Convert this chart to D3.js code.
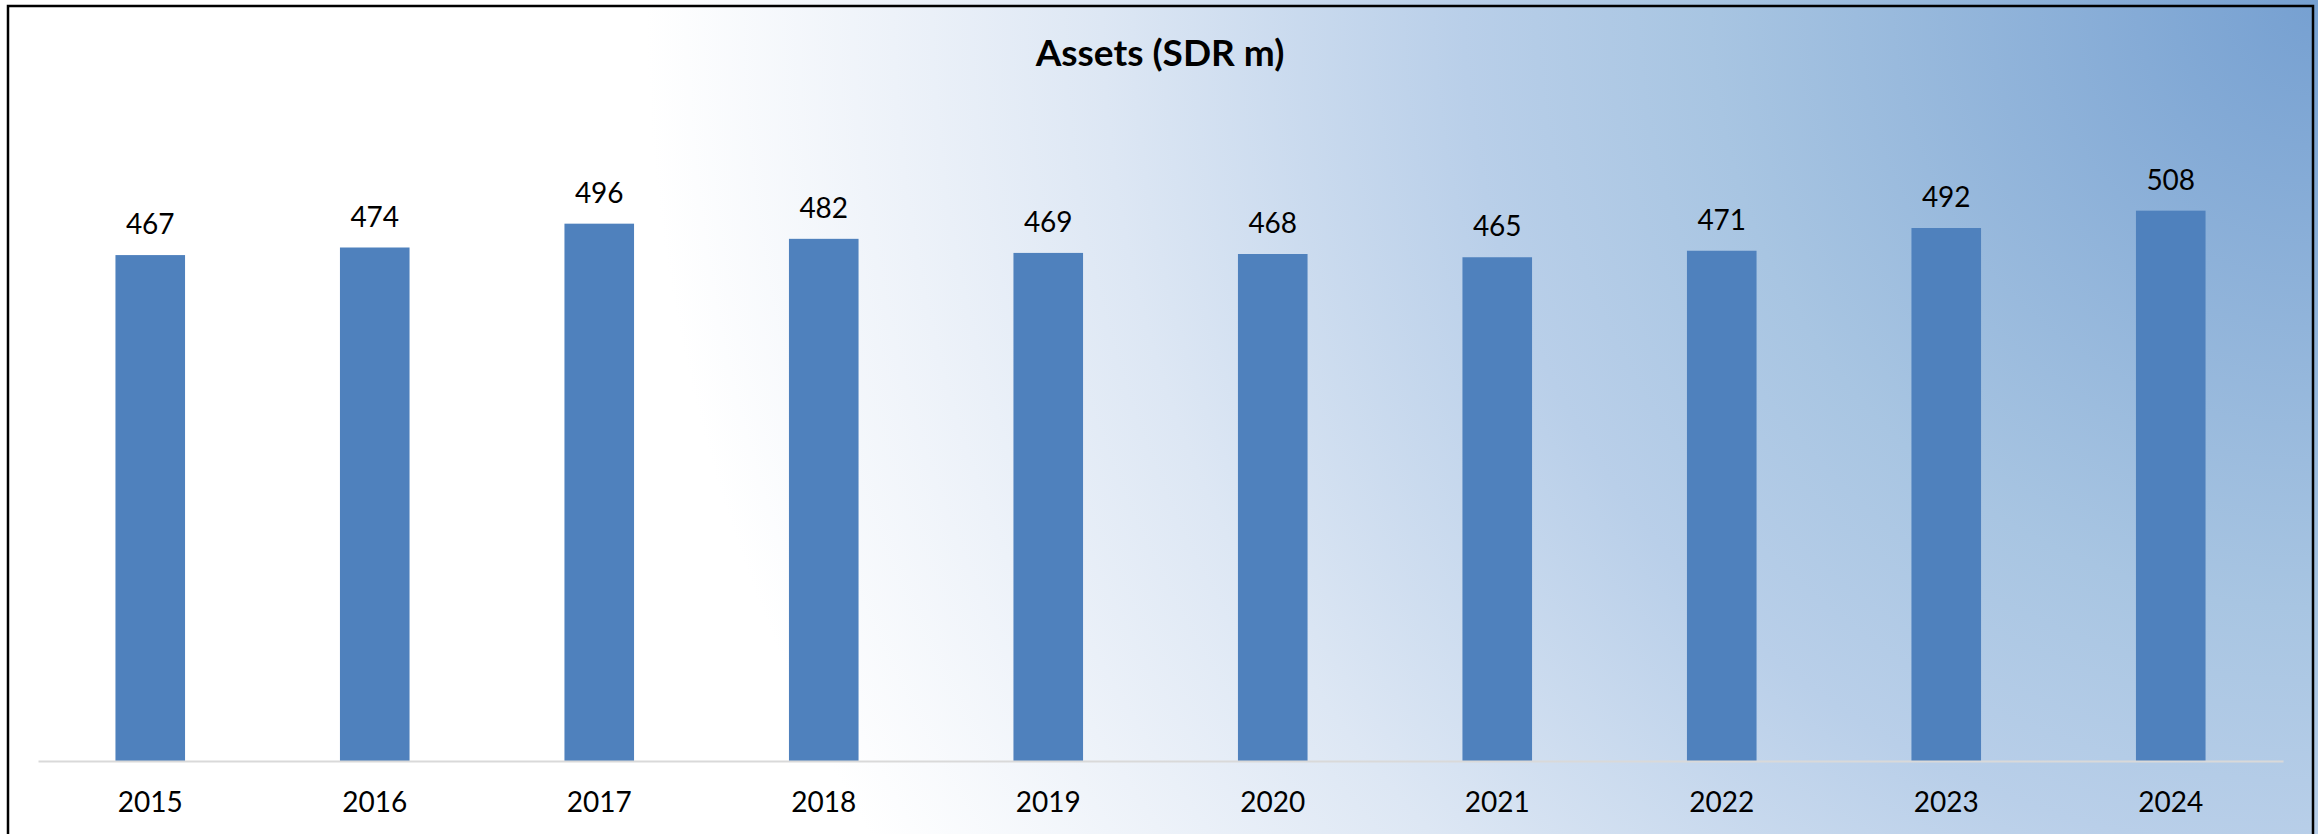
<!DOCTYPE html>
<html lang="en">

<head>
    <meta charset="utf-8">
    <title>Assets (SDR m)</title>
    <script type="text/javascript" src="https://cdn.jsdelivr.net/npm/d3@7"></script>
    <style type="text/css">
    body {
        margin: 0;
        background: #fff;
    }

    svg text {
        font-family: Lato, "Open Sans", sans-serif;
        fill: #000;
    }

    .title {
        font-size: 37px;
        font-weight: bold;
        text-anchor: middle;
    }

    .value {
        font-size: 28px;
        text-anchor: middle;
    }

    .x-axis text {
        font-size: 28px;
    }
    </style>
</head>

<body>
    <script type="text/javascript">
    //chart data
    var years = ['2015', '2016', '2017', '2018', '2019', '2020', '2021', '2022', '2023', '2024'];
    var assets = [467, 474, 496, 482, 469, 468, 465, 471, 492, 508];
    var title = 'Assets (SDR m)';

    //Width and height
    var w = 2318;
    var h = 834;

    //plot area (window.top is reserved, so use other names)
    var plotLeft = 38,
        plotRight = 2283,
        plotTop = 111,
        plotBottom = 761;

    var svg = d3.select('body')
        .append('svg')
        .attr('width', w)
        .attr('height', h);

    //background wash, white on the left fading to blue at the top right
    var defs = svg.append('defs');
    var grad = defs.append('radialGradient')
        .attr('id', 'bg')
        .attr('gradientUnits', 'userSpaceOnUse')
        .attr('cx', w)
        .attr('cy', 0)
        .attr('r', 1900);

    grad.selectAll('stop')
        .data([
            [0, '#76a0d1'],
            [0.32, '#a8c5e2'],
            [0.45, '#b9cfe9'],
            [0.64, '#dde7f4'],
            [0.75, '#edf2f9'],
            [0.88, '#ffffff'],
            [1, '#ffffff']
        ])
        .enter()
        .append('stop')
        .attr('offset', function(d) { return d[0]; })
        .attr('stop-color', function(d) { return d[1]; });

    svg.append('rect')
        .attr('x', 0)
        .attr('y', 0)
        .attr('width', w)
        .attr('height', h)
        .attr('fill', 'url(#bg)');

    //frame
    svg.append('rect')
        .attr('x', 8)
        .attr('y', 6)
        .attr('width', 2305)
        .attr('height', h + 20)
        .attr('fill', 'none')
        .attr('stroke', '#000')
        .attr('stroke-width', 2.5);

    //scales
    var x = d3.scaleBand()
        .domain(years)
        .range([plotLeft, plotRight])
        .paddingInner(0.69)
        .paddingOuter(0.345);

    var y = d3.scaleLinear()
        .domain([0, 600])
        .range([plotBottom, plotTop]);

    //bars
    svg.selectAll('rect.bar')
        .data(assets)
        .enter()
        .append('rect')
        .attr('class', 'bar')
        .attr('x', function(d, i) { return x(years[i]); })
        .attr('y', function(d) { return y(d); })
        .attr('width', x.bandwidth())
        .attr('height', function(d) { return y(0) - y(d); })
        .attr('fill', '#4f81bd');

    //value labels
    svg.selectAll('text.value')
        .data(assets)
        .enter()
        .append('text')
        .attr('class', 'value')
        .attr('x', function(d, i) { return x(years[i]) + x.bandwidth() / 2; })
        .attr('y', function(d) { return y(d) - 21; })
        .text(function(d) { return d; });

    //x axis
    var xAxis = d3.axisBottom(x)
        .tickSize(0)
        .tickPadding(31);

    var gx = svg.append('g')
        .attr('class', 'x-axis')
        .attr('transform', 'translate(0,' + plotBottom + ')')
        .call(xAxis);

    gx.select('.domain')
        .attr('stroke', '#d9d9d9')
        .attr('stroke-width', 2);

    gx.selectAll('text')
        .attr('fill', '#000')
        .style('font-family', 'Lato, "Open Sans", sans-serif');

    //title
    svg.append('text')
        .attr('class', 'title')
        .attr('x', 1160)
        .attr('y', 66)
        .text(title);
    </script>
</body>

</html>
